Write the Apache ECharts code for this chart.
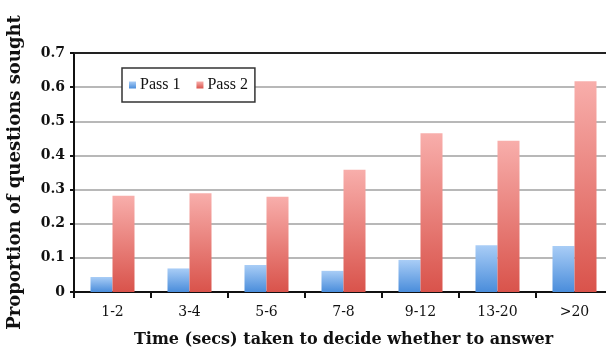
<!DOCTYPE html>
<html><head><meta charset="utf-8">
<script src="https://cdn.jsdelivr.net/npm/echarts@6/dist/echarts.min.js"></script>
<style>html,body{margin:0;padding:0;background:#fff}#c{width:606px;height:353px}</style>
</head><body><div id="c"></div>
<script>
const categories = ['1-2','3-4','5-6','7-8','9-12','13-20','>20'];
const pass1 = [0.044, 0.069, 0.079, 0.062, 0.094, 0.137, 0.135];
const pass2 = [0.282, 0.289, 0.279, 0.358, 0.465, 0.443, 0.617];
const yTicks = [0, 0.1, 0.2, 0.3, 0.4, 0.5, 0.6, 0.7];

const font = '"DejaVu Serif", "Liberation Serif", serif';
const font2 = '"Liberation Serif", serif';
const grad = (top, bottom) => new echarts.graphic.LinearGradient(0, 0, 0, 1, [
  {offset: 0, color: top}, {offset: 1, color: bottom}]);
const chart = echarts.init(document.getElementById('c'));
chart.setOption({
  animation: false,
  grid: {left: 74, top: 53, width: 539, bottom: 61, show: false, containLabel: false, outerBoundsMode: 'none'},
  legend: {
    left: 122, top: 68, itemWidth: 7, itemHeight: 7, itemGap: 16,
    borderColor: '#333', borderWidth: 1.5, backgroundColor: '#fff',
    padding: [9, 7, 9, 7],
    textStyle: {fontFamily: font2, fontSize: 16, color: '#111', padding: [0, 0, 0, -1]},
    icon: 'rect',
    data: ['Pass 1', 'Pass 2']
  },
  xAxis: {
    type: 'category', data: categories,
    name: 'Time (secs) taken to decide whether to answer',
    nameLocation: 'middle', nameGap: 40,
    nameTextStyle: {fontFamily: font, fontSize: 16, fontWeight: 'bold', color: '#111'},
    axisLine: {lineStyle: {color: '#111', width: 2}},
    axisTick: {show: true, length: 6, lineStyle: {color: '#111', width: 2}},
    axisLabel: {fontFamily: font, fontSize: 14, color: '#111', margin: 13}
  },
  yAxis: {
    type: 'value', min: 0, max: 0.7, interval: 0.1,
    name: 'Proportion of questions sought',
    nameLocation: 'middle', nameGap: 50,
    nameTextStyle: {fontFamily: font, fontSize: 18, fontWeight: 'bold', color: '#111'},
    axisLine: {show: true, lineStyle: {color: '#111', width: 2}},
    axisTick: {show: true, length: 4, lineStyle: {color: '#111', width: 2}},
    axisLabel: {fontFamily: font, fontSize: 14, fontWeight: 'bold', color: '#111', margin: 9,
      formatter: v => { const t = yTicks.find(x => Math.abs(x - v) < 1e-9); return t === undefined ? '' : String(+t.toFixed(1)); }},
    splitLine: {show: true, lineStyle: {color: '#a0a0a0', width: 1.5}}
  },
  series: [
    {name: 'Pass 1', type: 'bar', data: pass1, barWidth: 22, barGap: '0%',
     itemStyle: {color: grad('#a9cdf6', '#4a8ddb')},
     markLine: {silent: true, symbol: 'none', label: {show: false},
       lineStyle: {color: '#222', width: 2, type: 'solid'}, data: [{yAxis: 0.7}]}},
    {name: 'Pass 2', type: 'bar', data: pass2, barWidth: 22, barGap: '0%',
     itemStyle: {color: grad('#f8aeab', '#d9534b')}}
  ]
});
</script></body></html>
